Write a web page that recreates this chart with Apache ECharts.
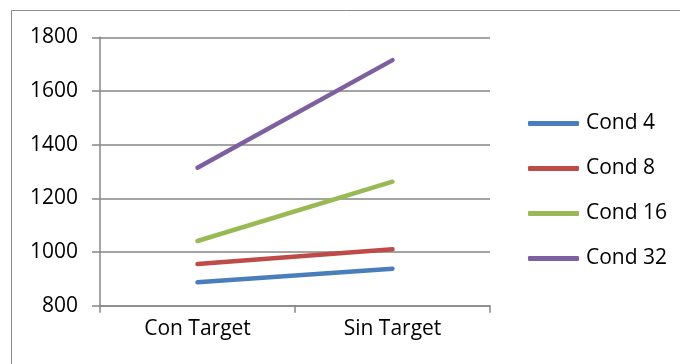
<!DOCTYPE html>
<html>
<head>
<meta charset="utf-8">
<script src="https://cdn.jsdelivr.net/npm/echarts@6/dist/echarts.min.js"></script>
<style>
    html, body { margin: 0; padding: 0; background: #fff; }
    #divChart { width: 680px; height: 364px; }
</style>
</head>
<body>
<div id="divChart"></div>
<script>
// data
var categories = ['Con Target', 'Sin Target'];
var seriesNames = ['Cond 4', 'Cond 8', 'Cond 16', 'Cond 32'];
var cond4 = [887, 938];
var cond8 = [955, 1010];
var cond16 = [1041, 1262];
var cond32 = [1314, 1715];
var seriesColors = ['#4A7EBB', '#BE4B48', '#98B954', '#7D60A0'];

var seriesData = [cond4, cond8, cond16, cond32];
var fontName = '"Open Sans", sans-serif';

var myChart = echarts.init(document.getElementById('divChart'));

var chartSeries = [];
for (var i = 0; i < seriesNames.length; i++) {
    chartSeries.push({
        name: seriesNames[i],
        type: 'line',
        showSymbol: false,
        symbol: 'none',
        data: seriesData[i],
        lineStyle: { width: 4.5, color: seriesColors[i], cap: 'round' },
        itemStyle: { color: seriesColors[i] }
    });
}

var option = {
    animation: false,
    backgroundColor: '#fff',
    graphic: [{
        type: 'rect',
        shape: { x: 11.5, y: 10.5, width: 700, height: 400 },
        style: { fill: 'none', stroke: '#8c8c8c', lineWidth: 1 }
    }],
    legend: {
        orient: 'vertical',
        left: 528,
        top: 113,
        padding: 0,
        itemWidth: 51,
        itemHeight: 5,
        itemGap: 24,
        icon: 'roundRect',
        data: seriesNames,
        textStyle: { fontFamily: fontName, fontSize: 21, lineHeight: 21, color: '#000', padding: [0, 0, 0, 2] }
    },
    grid: { left: 100, right: 190, top: 37.3, bottom: 58.3 },
    xAxis: {
        type: 'category',
        data: categories,
        boundaryGap: true,
        axisLine: { lineStyle: { color: '#868686', width: 1.5 } },
        axisTick: { show: true, length: 7, alignWithLabel: false, lineStyle: { color: '#868686', width: 1.5 } },
        axisLabel: { fontFamily: fontName, fontSize: 21, color: '#000', margin: 13 },
        splitLine: { show: false }
    },
    yAxis: {
        type: 'value',
        min: 800,
        max: 1800,
        interval: 200,
        axisLine: { show: true, lineStyle: { color: '#868686', width: 1.5 } },
        axisTick: { show: true, length: 8, lineStyle: { color: '#868686', width: 1.5 } },
        axisLabel: {
            fontFamily: fontName, fontSize: 21, color: '#000', margin: 22,
            formatter: function(v) { return String(v); }
        },
        splitLine: { show: true, lineStyle: { color: '#868686', width: 1.5 } }
    },
    series: chartSeries
};

myChart.setOption(option);
</script>
</body>
</html>
